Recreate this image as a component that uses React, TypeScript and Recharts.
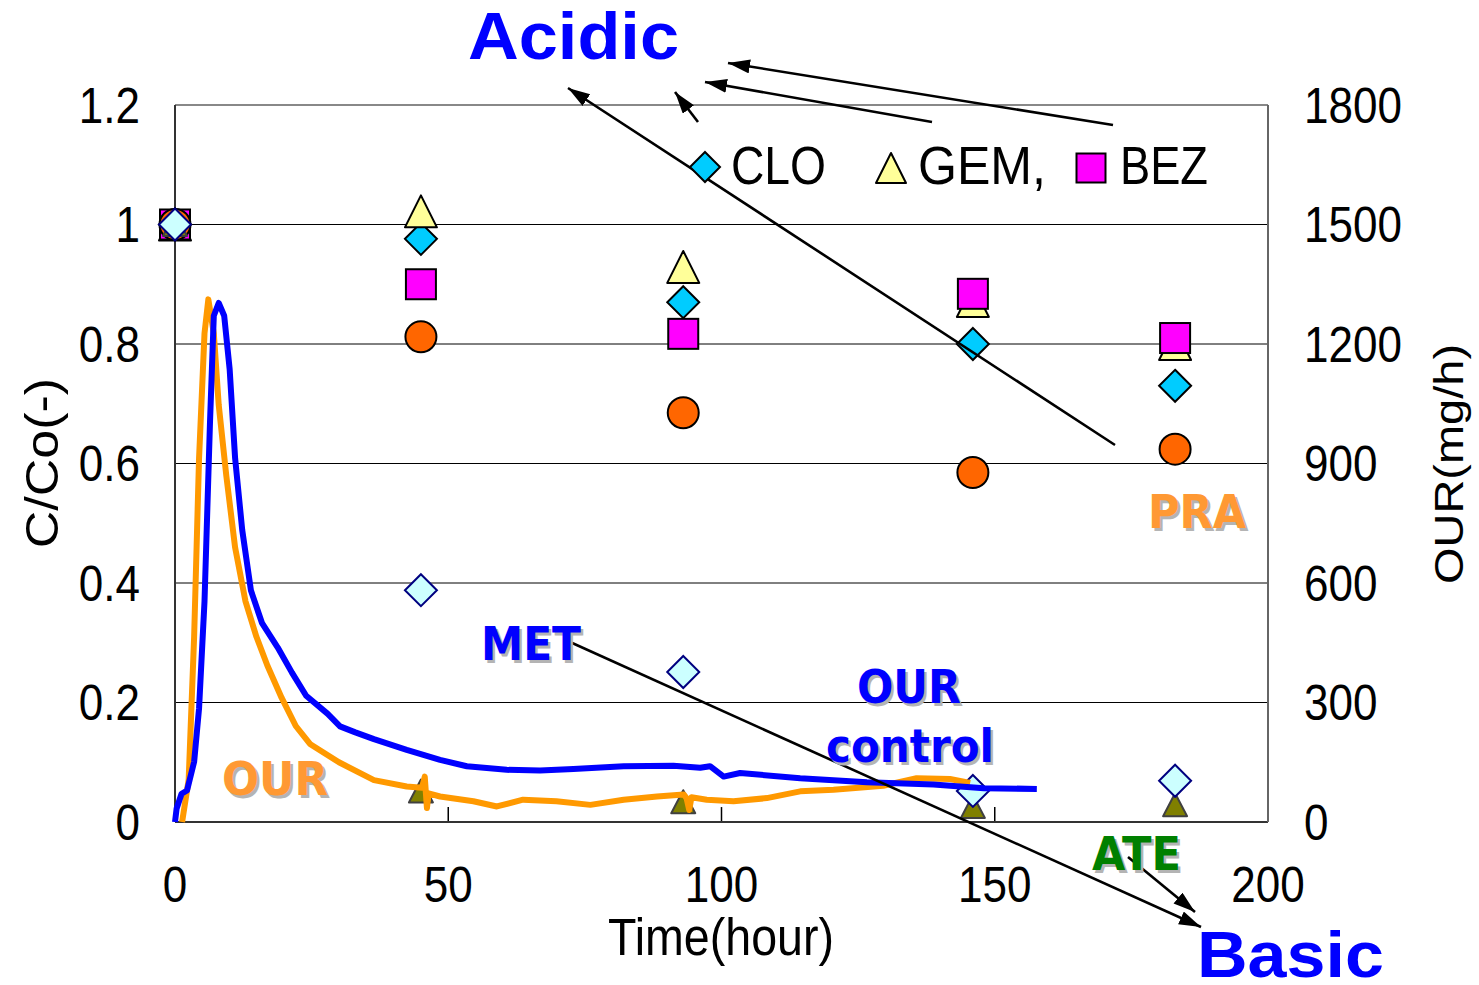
import React from 'react'
import {
  CartesianGrid, ComposedChart, Line, ReferenceLine, Scatter, XAxis, YAxis,
} from 'recharts'

// sampling times (hour) for the C/Co markers
const sampleHours = [0, 45, 93, 146, 183]

// C/Co(-) per compound, one value per sample hour
const cloValues = [1, 0.976, 0.87, 0.8, 0.73]
const gemValues = [1, 1.022, 0.929, 0.872, 0.8]
const bezValues = [1, 0.9, 0.817, 0.884, 0.81]
const praValues = [1, 0.812, 0.685, 0.585, 0.624]
const ateValues = [1, 0.052, 0.034, 0.026, 0.029]
const metValues = [1, 0.388, 0.251, 0.052, 0.069]

// OUR (mg/h), control reactor (blue)
const ourControlHours = [
  0, 0.3, 1.2, 2.2, 3.5, 4.4, 5.4, 6.4, 7.1, 8.0, 9.0, 10.0, 11.0, 12.3, 13.9, 15.9,
  18.8, 21.4, 24.0, 27.9, 30.2, 33, 36.4, 42.4, 48.5, 53.4, 60.7, 66.8, 72.9, 82.1,
  91.2, 96.1, 97.9, 100.4, 103.4, 114.4, 126.6, 138.8, 148, 157.7,
]
const ourControlValues = [
  0, 34, 71, 79, 151, 285, 554, 1002, 1271, 1303, 1271, 1137, 913, 733, 581, 500,
  438, 375, 317, 272, 240, 225, 208, 181, 156, 140, 131, 129, 133, 140,
  141, 136, 140, 114, 123, 110, 100, 94, 85, 83,
]

// OUR (mg/h), dosed reactor (orange)
const ourHours = [
  1.3, 2.5, 3.5, 4.4, 5.4, 6.1, 7.1, 8.0, 9.4, 11.0, 12.9, 14.9, 16.9, 19.5, 22.1,
  24.7, 30, 36.4, 42.4, 45.2, 45.7, 46.1, 46.4, 48.5, 54.6, 58.9, 63.7, 69.8, 76.0,
  82.1, 88.2, 93.1, 93.6, 94.1, 94.5, 97.3, 102.2, 108.3, 114.4, 120.5, 129.6,
  135.7, 141.8, 145.5,
]
const ourValues = [
  0, 106, 465, 913, 1227, 1312, 1227, 1047, 868, 689, 554, 465, 393, 312, 241,
  196, 150, 105, 89, 86, 114, 35, 72, 64, 52, 39, 56, 52, 43,
  56, 64, 69, 60, 30, 62, 56, 52, 60, 77, 81, 91,
  110, 108, 98,
]

const xTicks = [0, 50, 100, 150, 200]
const leftTicks = [0, 0.2, 0.4, 0.6, 0.8, 1, 1.2]
const rightTicks = [0, 300, 600, 900, 1200, 1500, 1800]
const innerXTicks = [50, 100, 150]

const W = 1479
const H = 985
const FONT = '"Liberation Sans", Arial, sans-serif'
const BOLD_FONT = '"DejaVu Sans", Verdana, sans-serif'
const SQUISH = 0.88

const toPoints = (vals: number[]) => sampleHours.map((x, i) => ({ x, y: vals[i] }))
const toSeries = (hours: number[], vals: number[]) => hours.map((x, i) => ({ x, our: vals[i] }))

const cloData = toPoints(cloValues)
const gemData = toPoints(gemValues)
const bezData = toPoints(bezValues)
const praData = toPoints(praValues)
const ateData = toPoints(ateValues)
const metData = toPoints(metValues)
const ourControl = toSeries(ourControlHours, ourControlValues)
const ourDosed = toSeries(ourHours, ourValues)

/* ─── marker shapes ─── */

const diamond = (fill: string, stroke: string, r = 16) => (p: any) => {
  const { cx, cy } = p
  if (cx == null || cy == null) return <g />
  return (
    <polygon
      points={`${cx},${cy - r} ${cx + r},${cy} ${cx},${cy + r} ${cx - r},${cy}`}
      fill={fill} stroke={stroke} strokeWidth={2}
    />
  )
}

const triangle = (fill: string, stroke: string, hw = 16, hh = 16) => (p: any) => {
  const { cx, cy } = p
  if (cx == null || cy == null) return <g />
  return (
    <polygon
      points={`${cx},${cy - hh} ${cx + hw},${cy + hh} ${cx - hw},${cy + hh}`}
      fill={fill} stroke={stroke} strokeWidth={2} strokeLinejoin="round"
    />
  )
}

const square = (fill: string, stroke: string, h = 15) => (p: any) => {
  const { cx, cy } = p
  if (cx == null || cy == null) return <g />
  return <rect x={cx - h} y={cy - h} width={h * 2} height={h * 2} fill={fill} stroke={stroke} strokeWidth={2} />
}

const circle = (fill: string, stroke: string, r = 15.5) => (p: any) => {
  const { cx, cy } = p
  if (cx == null || cy == null) return <g />
  return <circle cx={cx} cy={cy} r={r} fill={fill} stroke={stroke} strokeWidth={2} />
}

/* ─── ticks ─── */

function LeftTick({ x, y, payload }: any) {
  return (
    <text transform={`translate(${x - 35},${y + 17.5}) scale(${SQUISH},1)`} textAnchor="end"
      fontFamily={FONT} fontSize={50} fill="#000">
      {String(payload.value)}
    </text>
  )
}

function RightTick({ x, y, payload }: any) {
  return (
    <text transform={`translate(${x + 36},${y + 17.5}) scale(${SQUISH},1)`} textAnchor="start"
      fontFamily={FONT} fontSize={50} fill="#000">
      {String(payload.value)}
    </text>
  )
}

function BottomTick({ x, y, payload }: any) {
  return (
    <text transform={`translate(${x},${y + 80}) scale(${SQUISH},1)`} textAnchor="middle"
      fontFamily={FONT} fontSize={50} fill="#000">
      {String(payload.value)}
    </text>
  )
}

/* ─── annotations ─── */

function Shadowed({ x, y, len, color, children }: { x: number; y: number; len: number; color: string; children: string }) {
  return (
    <g fontFamily={BOLD_FONT} fontWeight="bold" fontSize={47}>
      <text x={x + 2.5} y={y + 2.5} fill="#b4b4b4" textLength={len} lengthAdjust="spacingAndGlyphs">{children}</text>
      <text x={x} y={y} fill={color} textLength={len} lengthAdjust="spacingAndGlyphs">{children}</text>
    </g>
  )
}

const arrows: [number, number, number, number][] = [
  [1115, 445, 568, 88],
  [698, 122, 675, 92],
  [932, 122, 705, 82],
  [1113, 125, 728, 63],
  [570, 642, 1201, 927],
  [1128, 857, 1195, 912],
]

function Overlay() {
  return (
    <svg width={W} height={H} style={{ position: 'absolute', left: 0, top: 0, pointerEvents: 'none' }}>
      <defs>
        <marker id="arrowHead" markerUnits="userSpaceOnUse" markerWidth={24} markerHeight={16}
          refX={22} refY={7} orient="auto">
          <path d="M0,0 L22,7 L0,14 z" fill="#000" />
        </marker>
      </defs>

      {arrows.map(([x1, y1, x2, y2], i) => (
        <line key={i} x1={x1} y1={y1} x2={x2} y2={y2} stroke="#000" strokeWidth={2.6} markerEnd="url(#arrowHead)" />
      ))}

      {/* legend */}
      {diamond('#00CCFF', '#000', 15)({ cx: 705, cy: 167 })}
      {triangle('#FFFF99', '#000', 15, 15)({ cx: 891, cy: 168 })}
      {square('#FF00FF', '#000', 14.5)({ cx: 1091, cy: 168 })}
      <g fontFamily={FONT} fontSize={53} fill="#000">
        <text x={731} y={184} textLength={95} lengthAdjust="spacingAndGlyphs">CLO</text>
        <text x={918} y={184} textLength={128} lengthAdjust="spacingAndGlyphs">GEM,</text>
        <text x={1120} y={184} textLength={88} lengthAdjust="spacingAndGlyphs">BEZ</text>
      </g>

      {/* Acidic / Basic */}
      <g fontFamily={FONT} fontWeight="bold" fill="#0000FF">
        <text x={468} y={59} fontSize={66} textLength={211} lengthAdjust="spacingAndGlyphs">Acidic</text>
        <text x={1197} y={977} fontSize={64} textLength={187} lengthAdjust="spacingAndGlyphs">Basic</text>
      </g>

      <Shadowed x={481} y={660} len={100} color="#0000FF">MET</Shadowed>
      <Shadowed x={222} y={795} len={106} color="#FF9933">OUR</Shadowed>
      <Shadowed x={857} y={703} len={104} color="#0000FF">OUR</Shadowed>
      <Shadowed x={826} y={762} len={168} color="#0000FF">control</Shadowed>
      <Shadowed x={1148} y={528} len={98} color="#FF9933">PRA</Shadowed>
      <Shadowed x={1092} y={870} len={89} color="#008000">ATE</Shadowed>

      {/* axis titles */}
      <text x={721} y={955} textAnchor="middle" fontFamily={FONT} fontSize={51} fill="#000"
        textLength={226} lengthAdjust="spacingAndGlyphs">Time(hour)</text>
      <text transform={`translate(58,463) scale(${SQUISH},1) rotate(-90)`} textAnchor="middle"
        fontFamily={FONT} fontSize={52} fill="#000">C/Co(-)</text>
      <text transform={`translate(1463,464) scale(${SQUISH},1) rotate(-90)`} textAnchor="middle"
        fontFamily={FONT} fontSize={47} fill="#000">OUR(mg/h)</text>
    </svg>
  )
}

export default function App() {
  return (
    <div style={{ position: 'absolute', left: 0, top: 0, width: W, height: H, background: '#fff' }}>
      <ComposedChart width={W} height={H} margin={{ top: 105, right: 210, bottom: 162, left: 174 }}>
        <CartesianGrid yAxisId="left" vertical={false} stroke="#000" strokeWidth={1} />
        <XAxis
          dataKey="x" type="number" domain={[0, 200]} ticks={xTicks} height={1}
          tickLine={false} tickSize={0} tickMargin={0}
          axisLine={{ stroke: '#333', strokeWidth: 2 }} tick={(p: any) => <BottomTick {...p} />}
        />
        <YAxis
          yAxisId="left" dataKey="y" type="number" domain={[0, 1.2]} ticks={leftTicks} width={1}
          tickLine={false} tickSize={0} tickMargin={0}
          axisLine={{ stroke: '#333', strokeWidth: 2 }} tick={(p: any) => <LeftTick {...p} />}
        />
        <YAxis
          yAxisId="right" orientation="right" type="number" domain={[0, 1800]} ticks={rightTicks} width={1}
          tickLine={false} tickSize={0} tickMargin={0}
          axisLine={{ stroke: '#666', strokeWidth: 2 }} tick={(p: any) => <RightTick {...p} />}
        />
        <ReferenceLine yAxisId="left" y={1.2} stroke="#888" strokeWidth={2} />
        {innerXTicks.map(t => (
          <ReferenceLine key={t} yAxisId="left" segment={[{ x: t, y: 0 }, { x: t, y: 0.025 }]}
            stroke="#000" strokeWidth={1.5} />
        ))}

        <Scatter yAxisId="left" data={cloData} shape={diamond('#00CCFF', '#000')} isAnimationActive={false} />
        <Scatter yAxisId="left" data={gemData} shape={triangle('#FFFF99', '#000')} isAnimationActive={false} />
        <Scatter yAxisId="left" data={bezData} shape={square('#FF00FF', '#000')} isAnimationActive={false} />
        <Scatter yAxisId="left" data={praData} shape={circle('#FF6600', '#000')} isAnimationActive={false} />
        <Scatter yAxisId="left" data={ateData} shape={triangle('#808000', '#404040', 12, 11.5)} isAnimationActive={false} />
        <Scatter yAxisId="left" data={metData} shape={diamond('#CCFFFF', '#000080')} isAnimationActive={false} />

        <Line yAxisId="right" data={ourDosed} dataKey="our" type="linear" stroke="#FF9900" strokeWidth={6}
          strokeLinejoin="round" dot={false} activeDot={false} isAnimationActive={false} zIndex={700} />
        <Line yAxisId="right" data={ourControl} dataKey="our" type="linear" stroke="#0000FF" strokeWidth={6}
          strokeLinejoin="round" dot={false} activeDot={false} isAnimationActive={false} zIndex={700} />
      </ComposedChart>
      <Overlay />
    </div>
  )
}
